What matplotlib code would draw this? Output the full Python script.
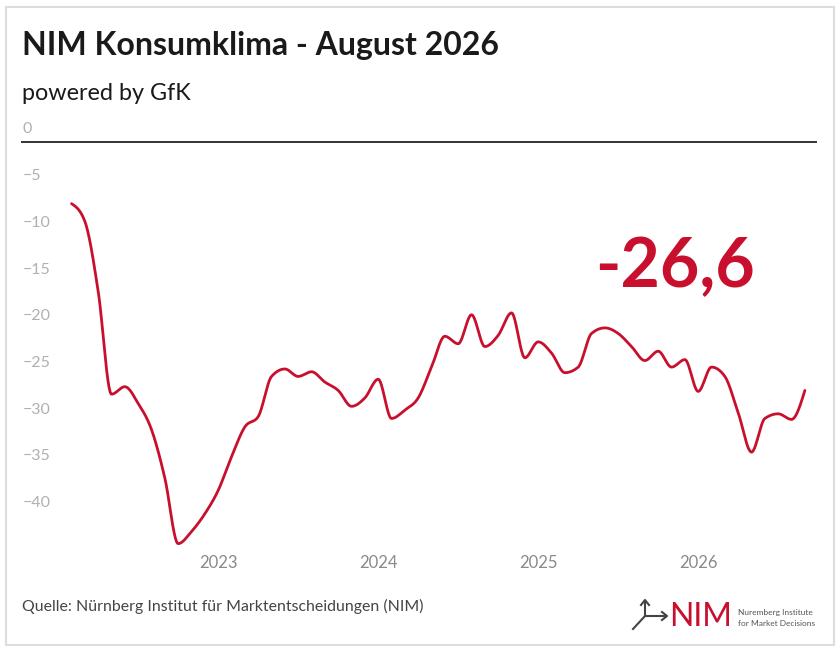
import numpy as np
import pandas as pd
import matplotlib
matplotlib.use("Agg")
import matplotlib.pyplot as plt
from matplotlib.patches import Rectangle
from matplotlib.lines import Line2D

# monthly consumer climate values, Feb 2022 .. Sep 2026
months = pd.period_range("2022-02", "2026-09", freq="M")
values = [
    -6.6, -8.5, -16.0, -27.0, -26.2, -28.0, -30.8, -36.0, -43.0, -41.7, -39.8,
    -37.3, -33.7, -30.5, -29.4, -25.1, -24.3, -25.1, -24.6, -25.7, -26.6, -28.3, -27.4,
    -25.4, -29.6, -28.7, -27.4, -24.1, -20.8, -21.6, -18.5, -21.9, -20.7, -18.3, -23.1,
    -21.4, -22.6, -24.7, -24.1, -20.5, -19.9, -20.5, -21.9, -23.4, -22.4, -24.1, -23.3,
    -26.7, -24.1, -25.1, -29.0, -33.2, -29.6, -29.1, -29.7, -26.6,
]
year_ticks = [2023, 2024, 2025, 2026]
y_ticks = [0, -5, -10, -15, -20, -25, -30, -35, -40]
latest_label = "-26,6"

RED = "#c8102e"
FONT = "Lato"
plt.rcParams["font.family"] = [FONT, "DejaVu Sans"]


def monotoneCurve(x, y, n=24):
    # monotone cubic (Fritsch-Carlson style) for a smooth line between months
    x = np.asarray(x, float)
    y = np.asarray(y, float)
    h = np.diff(x)
    s = np.diff(y) / h
    m = np.zeros_like(y)
    p = (s[:-1] * h[1:] + s[1:] * h[:-1]) / (h[:-1] + h[1:])
    m[1:-1] = (np.sign(s[:-1]) + np.sign(s[1:])) * np.minimum(
        np.minimum(np.abs(s[:-1]), np.abs(s[1:])), 0.5 * np.abs(p))
    m[0] = (3 * s[0] - m[1]) / 2
    m[-1] = (3 * s[-1] - m[-2]) / 2
    xs, ys = [], []
    for i in range(len(x) - 1):
        t = np.linspace(0, 1, n, endpoint=False)
        h00 = 2 * t**3 - 3 * t**2 + 1
        h10 = t**3 - 2 * t**2 + t
        h01 = -2 * t**3 + 3 * t**2
        h11 = t**3 - t**2
        xs.append(x[i] + t * h[i])
        ys.append(h00 * y[i] + h10 * h[i] * m[i] + h01 * y[i + 1] + h11 * h[i] * m[i + 1])
    xs.append([x[-1]])
    ys.append([y[-1]])
    return np.concatenate(xs), np.concatenate(ys)


W, H = 840, 653
fig = plt.figure(figsize=(W / 100, H / 100), dpi=100)
fig.patch.set_facecolor("white")

# axes placed in pixel terms of the reference
left, right, top, bottom = 21, 817, 130, 548
ax = fig.add_axes([left / W, 1 - bottom / H, (right - left) / W, (bottom - top) / H])

t = np.array([p.year + (p.month - 1) / 12 for p in months])
xs, ys = monotoneCurve(t, values)
ax.plot(xs, ys, color=RED, lw=2.0, solid_capstyle="round", zorder=3)

ax.set_xlim(2022 + (left - 58.2) / 160, 2022 + (right - 58.2) / 160)
ax.set_ylim(-(bottom - 142) / 9.34, (142 - top) / 9.34)

for s in ax.spines.values():
    s.set_visible(False)
ax.axhline(0, color="#333333", lw=1.4, zorder=2)
ax.set_yticks([])
ax.set_xticks(year_ticks)
ax.set_xticklabels([str(y) for y in year_ticks], color="#8a8a8a", fontsize=12)
ax.tick_params(axis="x", length=0, pad=5)

# y labels sit above their (invisible) gridlines
for v in y_ticks:
    lab = "0" if v == 0 else "\u2212" + str(-v)
    ax.annotate(lab, xy=(0, v), xycoords=("axes fraction", "data"),
                xytext=(1, 4), textcoords="offset points",
                ha="left", va="bottom", color="#b0b0b0", fontsize=11.5)

ax.text(675 / W, 1 - 268 / H, latest_label, transform=fig.transFigure,
        ha="center", va="center", color=RED, fontsize=49, fontweight="bold")

# titles and footer
fig.text(22 / W, 1 - 45 / H, "NIM Konsumklima - August 2026", ha="left", va="center",
         fontsize=23, fontweight="bold", color="#1a1a1a")
fig.text(22 / W, 1 - 93 / H, "powered by GfK", ha="left", va="center",
         fontsize=16.8, color="#1a1a1a")
fig.text(22 / W, 1 - 606 / H, "Quelle: Nürnberg Institut für Marktentscheidungen (NIM)",
         ha="left", va="center", fontsize=11.4, color="#444444")

# logo
def px(x, y):
    return x / W, 1 - y / H

lx = [px(633, 629)[0], px(645, 616)[0], px(666, 616)[0]]
ly = [px(633, 629)[1], px(645, 616)[1], px(666, 616)[1]]
fig.add_artist(Line2D(lx, ly, color="#444444", lw=1.5))
fig.add_artist(Line2D([px(645, 616)[0]] * 2, [px(645, 616)[1], px(645, 601)[1]],
                      color="#444444", lw=1.5))
fig.add_artist(Line2D([px(641, 605)[0], px(645, 600)[0], px(649, 605)[0]],
                      [px(641, 605)[1], px(645, 600)[1], px(649, 605)[1]],
                      color="#444444", lw=1.5))
fig.add_artist(Line2D([px(662, 612)[0], px(667, 616)[0], px(662, 620)[0]],
                      [px(662, 612)[1], px(667, 616)[1], px(662, 620)[1]],
                      color="#444444", lw=1.5))
fig.text(*px(669, 617), "NIM", ha="left", va="center", fontsize=23, color=RED)
fig.text(*px(738, 612), "Nuremberg Institute", ha="left", va="center", fontsize=6, color="#555555")
fig.text(*px(738, 624), "for Market Decisions", ha="left", va="center", fontsize=6, color="#555555")

# frame
fig.add_artist(Rectangle((6 / W, 1 - 645 / H), 828 / W, 638 / H, transform=fig.transFigure,
                         fill=False, ec="#dddddd", lw=1.5))

fig.savefig("out.png", dpi=100)
